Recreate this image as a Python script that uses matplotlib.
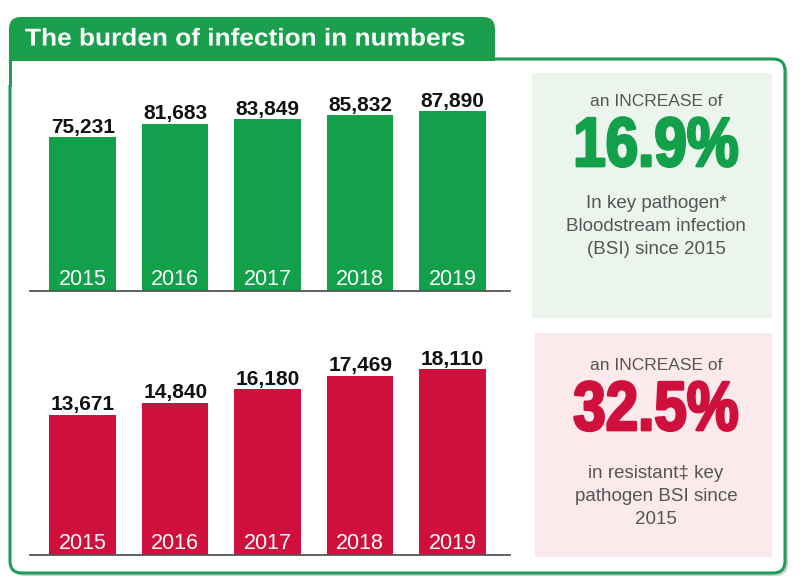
import numpy as np
import matplotlib

matplotlib.use("Agg")
import matplotlib.pyplot as plt
from matplotlib.patches import FancyBboxPatch, Rectangle
from matplotlib.patheffects import AbstractPathEffect
from matplotlib.transforms import Affine2D

plt.rcParams["font.family"] = ["Liberation Sans", "DejaVu Sans"]

# Data
years = ["2015", "2016", "2017", "2018", "2019"]
bsi_total = [75231, 81683, 83849, 85832, 87890]
bsi_resistant = [13671, 14840, 16180, 17469, 18110]
title = "The burden of infection in numbers"
pct_total = "16.9%"
pct_resistant = "32.5%"
note_total = ["In key pathogen*", "Bloodstream infection", "(BSI) since 2015"]
note_resistant = ["in resistant\u2021 key", "pathogen BSI since", "2015"]

GREEN = "#12a04a"
RED = "#d0103c"
BORDER = "#1e9c5c"
GREY_TXT = "#555555"


class Stretch(AbstractPathEffect):
    """Scale a text horizontally about its anchor, optionally thickening it."""

    def __init__(self, text, sx, weight=0.0):
        super().__init__()
        self.text = text
        self.sx = sx
        self.weight = weight

    def draw_path(self, renderer, gc, tpath, affine, rgbFace=None):
        x0, y0 = self.text.get_transform().transform(self.text.get_position())
        squeeze = Affine2D().translate(-x0, -y0).scale(self.sx, 1).translate(x0, y0)
        gc0 = renderer.new_gc()
        gc0.copy_properties(gc)
        if self.weight > 0 and rgbFace is not None:
            gc0.set_linewidth(self.weight)
            gc0.set_foreground(rgbFace, isRGBA=True)
            gc0.set_joinstyle("round")
        else:
            gc0.set_linewidth(0)
        renderer.draw_path(gc0, tpath, affine + squeeze, rgbFace)
        gc0.restore()


def stretched(t, sx, weight=0.0):
    t.set_path_effects([Stretch(t, sx, weight)])
    return t


W, H = 807, 578
fig = plt.figure(figsize=(W / 100, H / 100), dpi=100)

# background / decoration axes in pixel coordinates
bg = fig.add_axes([0, 0, 1, 1])
bg.set_xlim(0, W)
bg.set_ylim(H, 0)
bg.axis("off")

# shadow + outer box
bg.add_patch(FancyBboxPatch((13, 62), 775, 514,
                            boxstyle="round,pad=0,rounding_size=12",
                            facecolor="#d0d0d0", edgecolor="none", zorder=1))
bg.add_patch(FancyBboxPatch((10, 59), 775, 514,
                            boxstyle="round,pad=0,rounding_size=12",
                            facecolor="white", edgecolor=BORDER,
                            linewidth=2.2, zorder=2))
# square off top-left corner under the tab
bg.add_patch(Rectangle((5, 55), 25, 30, facecolor="white",
                       edgecolor="none", zorder=3))
bg.plot([10, 10], [58, 86], color=BORDER, linewidth=2.2, zorder=4,
        solid_capstyle="butt")

# title tab
bg.add_patch(FancyBboxPatch((9, 17), 486, 44,
                            boxstyle="round,pad=0,rounding_size=12",
                            facecolor="#1a9f4d", edgecolor="none", zorder=5))
bg.add_patch(Rectangle((9, 45), 486, 16, facecolor="#1a9f4d",
                       edgecolor="none", zorder=5))
stretched(bg.text(25, 39, title, color="white", fontsize=17.5,
                  fontweight="bold", ha="left", va="center", zorder=6), 1.08)

# right hand info boxes
bg.add_patch(Rectangle((532, 73), 240, 245, facecolor="#ebf5ed",
                       edgecolor="none", zorder=3))
bg.add_patch(Rectangle((535, 333), 237, 224, facecolor="#fbe9eb",
                       edgecolor="none", zorder=3))

cx = 656
bg.text(cx, 101, "an INCREASE of", color=GREY_TXT, fontsize=12.5,
        ha="center", va="center", zorder=6)
stretched(bg.text(cx, 148, pct_total, color=GREEN, fontsize=50,
                  fontweight="bold", ha="center", va="center", zorder=6),
          0.84, 2.0)
for k, line in enumerate(note_total):
    bg.text(cx, 204 + k * 22.5, line, color=GREY_TXT, fontsize=13.5,
            ha="center", va="center", zorder=6)

bg.text(cx, 365, "an INCREASE of", color=GREY_TXT, fontsize=12.5,
        ha="center", va="center", zorder=6)
stretched(bg.text(cx, 412, pct_resistant, color=RED, fontsize=50,
                  fontweight="bold", ha="center", va="center", zorder=6),
          0.84, 2.0)
for k, line in enumerate(note_resistant):
    bg.text(cx, 474 + k * 22.5, line, color=GREY_TXT, fontsize=13.5,
            ha="center", va="center", zorder=6)


def bar_panel(baseline_px, values, ymax, color):
    ax = fig.add_axes([30 / W, (H - baseline_px) / H, 480 / W, 210 / H])
    ax.patch.set_alpha(0)
    x = np.arange(len(values))
    ax.bar(x, values, width=0.72, color=color, zorder=2)
    ax.set_xlim(-0.57, len(values) - 0.38)
    ax.set_ylim(0, ymax)
    for s in ["top", "right", "left"]:
        ax.spines[s].set_visible(False)
    ax.spines["bottom"].set_color("#555555")
    ax.spines["bottom"].set_linewidth(1.3)
    ax.set_xticks([])
    ax.set_yticks([])
    for i, v in enumerate(values):
        ax.annotate(f"{v:,}", (i, v), xytext=(0, 3),
                    textcoords="offset points", ha="center", va="baseline",
                    fontsize=15, fontweight="bold", color="#111111")
        ax.annotate(years[i], (i, 0), xytext=(0, 4.5),
                    textcoords="offset points", ha="center", va="baseline",
                    fontsize=15.5, color="white")
    return ax


bar_panel(291, bsi_total, 102500, GREEN)
bar_panel(555, bsi_resistant, 20450, RED)

fig.savefig("out.png", dpi=100)
